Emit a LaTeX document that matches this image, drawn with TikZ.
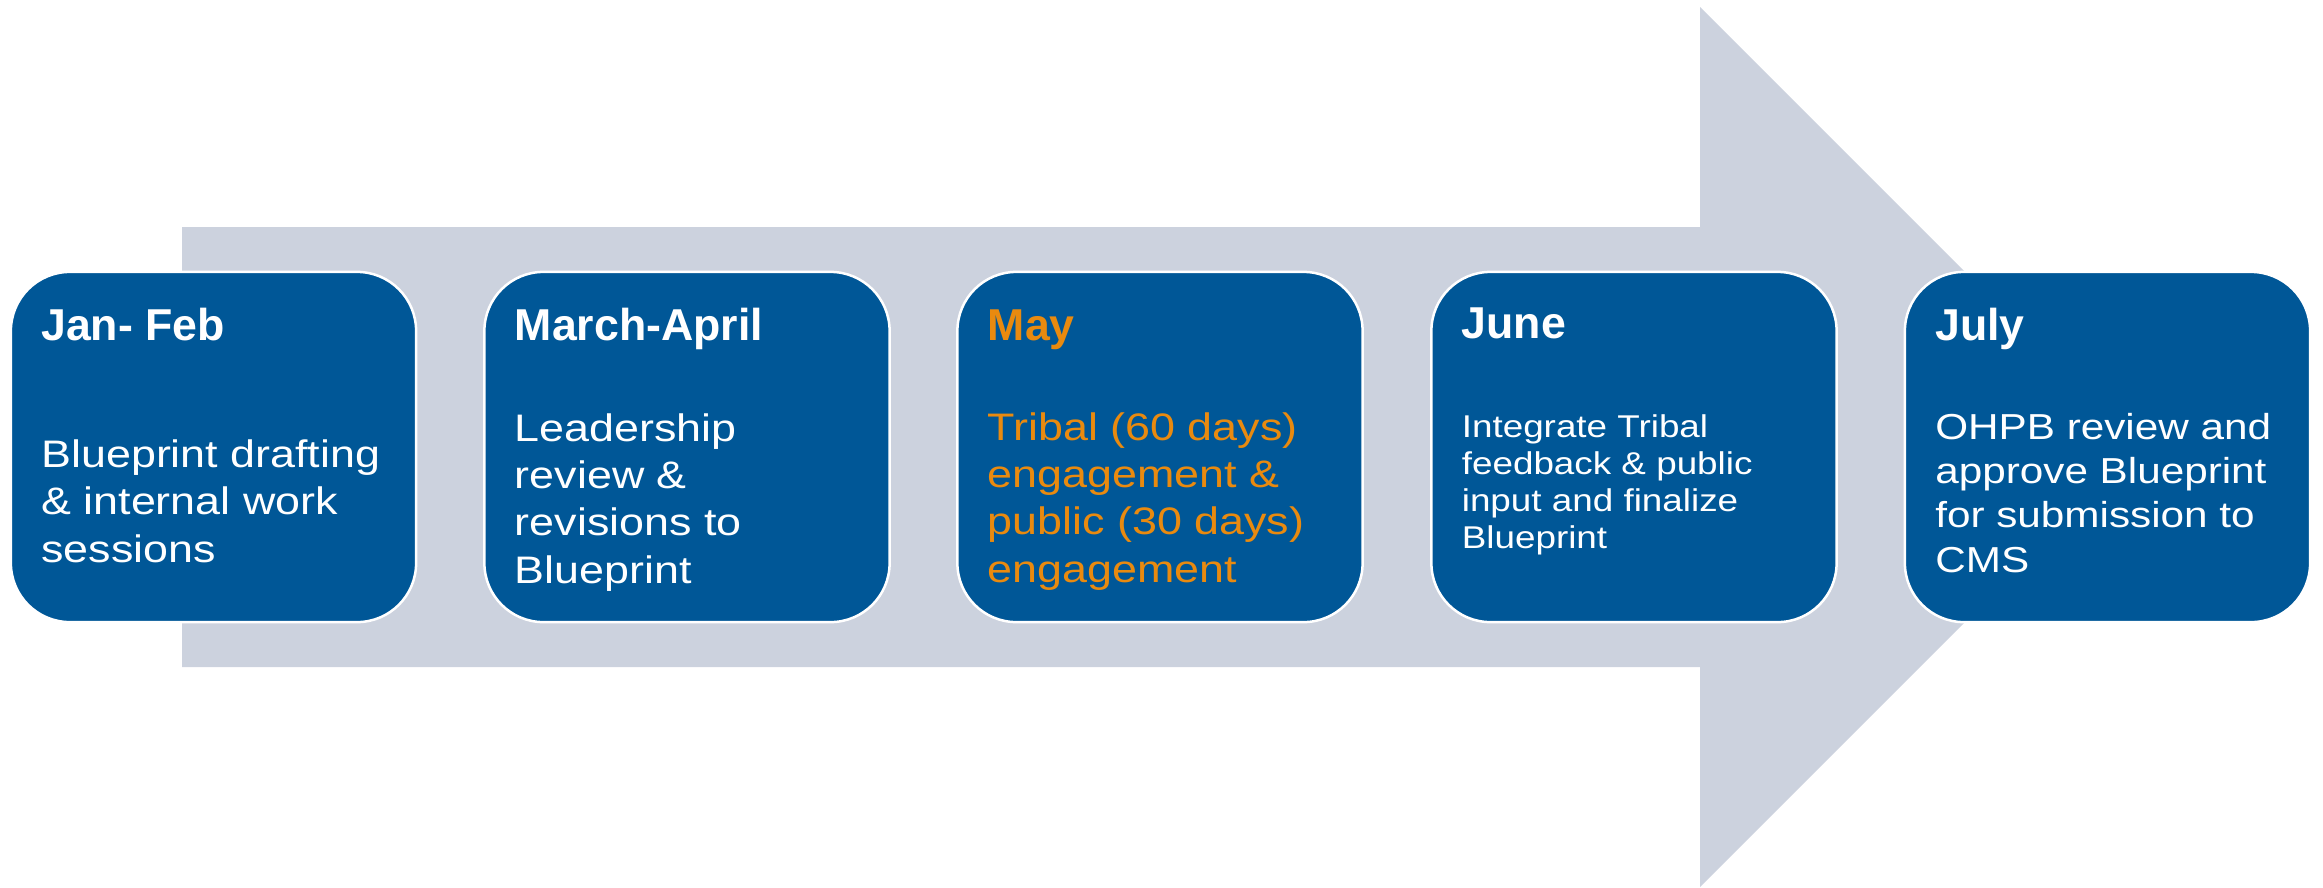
\documentclass[tikz,border=0pt]{standalone}
\usepackage{fontspec}
\setmainfont{Liberation Sans}
\newfontfamily\bodyfont[FakeStretch=1.17]{Liberation Sans}
\usetikzlibrary{calc}
\definecolor{boxblue}{HTML}{005797}
\definecolor{arrowgray}{HTML}{CCD2DE}
\definecolor{mayorange}{HTML}{E98A0F}
\tikzset{
  stagebox/.style={draw=white, line width=0.025cm, fill=boxblue, rounded corners=0.59cm,
    minimum width=4.05cm, minimum height=3.5cm, inner sep=0pt},
  stagetitle/.style={anchor=base west, inner sep=0pt, text=white,
    font=\fontsize{12.7pt}{15pt}\selectfont\bfseries},
  stagebody/.style={anchor=base west, inner sep=0pt, text=white, align=left,
    font=\bodyfont\fontsize{10.9pt}{13.4pt}\selectfont},
}
\begin{document}
\begin{tikzpicture}[x=0.01cm, y=-0.01cm]
\useasboundingbox (0,0) rectangle (2323,887);
% big arrow
\fill[arrowgray] (182,227) -- (1700,227) -- (1700,7) -- (2140,447) -- (1700,887) -- (1700,667) -- (182,667) -- cycle;
% boxes
\node[stagebox] (b1) at (213.5,447) {};
\node[stagebox] (b2) at (687,447) {};
\node[stagebox] (b3) at (1160,447) {};
\node[stagebox] (b4) at (1634,447) {};
\node[stagebox] (b5) at (2107.5,447) {};
% titles
\node[stagetitle] (t1) at ($(b1.west)+(31,-107)$) {Jan- Feb};
\node[stagetitle] (t2) at ($(b2.west)+(31,-107)$) {March-April};
\node[stagetitle, text=mayorange] (t3) at ($(b3.west)+(31,-107)$) {May};
\node[stagetitle] (t4) at ($(b4.west)+(31,-109)$) {June};
\node[stagetitle] (t5) at ($(b5.west)+(31,-107)$) {July};
% bodies (anchored at the baseline of the last line)
\node[stagebody] (d1) at ($(b1.west)+(31,115)$) {Blueprint drafting\\ \& internal work\\ sessions};
\node[stagebody] (d2) at ($(b2.west)+(31,136)$) {Leadership\\ review \&\\ revisions to\\ Blueprint};
\node[stagebody, text=mayorange] (d3) at ($(b3.west)+(31,135)$) {Tribal (60 days)\\ engagement \&\\ public (30 days)\\ engagement};
\node[stagebody, font=\bodyfont\fontsize{8.95pt}{10.5pt}\selectfont] (d4) at ($(b4.west)+(31,101)$) {Integrate Tribal\\ feedback \& public\\ input and finalize\\ Blueprint};
\node[stagebody, font=\bodyfont\fontsize{10.27pt}{12.6pt}\selectfont] (d5) at ($(b5.west)+(31,125)$) {OHPB review and\\ approve Blueprint\\ for submission to\\ CMS};
\end{tikzpicture}
\end{document}
